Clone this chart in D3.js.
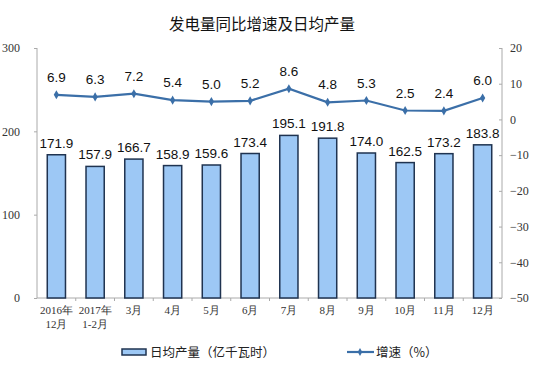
<!DOCTYPE html>
<html><head><meta charset="utf-8">
<script src="https://cdn.jsdelivr.net/npm/d3@7"></script>
<style>body{margin:0;background:#fff}</style>
</head><body>
<svg id="c" width="536" height="368"></svg>
<script>
const categories = ["2016年|12月","2017年|1-2月","3月","4月","5月","6月","7月","8月","9月","10月","11月","12月"];
const output = [171.9,157.9,166.7,158.9,159.6,173.4,195.1,191.8,174.0,162.5,173.2,183.8];
const growth = [6.9,6.3,7.2,5.4,5.0,5.2,8.6,4.8,5.3,2.5,2.4,6.0];
const leftTicks = [0,100,200,300];
const rightTicks = [20,10,0,-10,-20,-30,-40,-50];

const svg = d3.select("#c");
const L=37,R=502,T=48,B=298;
const x = d3.scaleBand().domain(categories).range([L,R]).paddingInner(0.53).paddingOuter(0.265);
const xo = d3.scaleBand().domain(categories).range([L,R]);
const yL = d3.scaleLinear().domain([0,300]).range([B,T]);
const yR = d3.scaleLinear().domain([-50,20]).range([B,T]);
const serif = "'Liberation Serif','DejaVu Serif',serif";
const cjk = "'Noto Sans CJK SC',sans-serif";

svg.append("text").attr("x",262).attr("y",30).attr("text-anchor","middle")
  .attr("font-family",cjk).attr("font-size",15.5).attr("fill","#111").text("发电量同比增速及日均产量");

// axes
const gl = svg.append("g").attr("transform",`translate(${L},0)`)
  .call(d3.axisLeft(yL).tickValues(leftTicks).tickSize(3).tickPadding(14));
gl.select(".domain").attr("stroke","#aaa").attr("d",`M0,${T}V${B}`);
gl.selectAll(".tick line").attr("stroke","#aaa");
gl.selectAll("text").attr("font-family",serif).attr("font-size",12).attr("fill","#333");

const gr = svg.append("g").attr("transform",`translate(${R},0)`)
  .call(d3.axisRight(yR).tickValues(rightTicks).tickSize(-3).tickPadding(8));
gr.select(".domain").attr("stroke","#aaa").attr("d",`M0,${T}V${B}`);
gr.selectAll(".tick line").attr("stroke","#aaa");
gr.selectAll("text").attr("font-family",serif).attr("font-size",12).attr("fill","#333");

// bottom axis
svg.append("line").attr("x1",L).attr("x2",R).attr("y1",B).attr("y2",B).attr("stroke","#aaa");
svg.selectAll(".xt").data(categories.slice(1)).enter().append("line")
  .attr("x1",d=>xo(d)).attr("x2",d=>xo(d)).attr("y1",B).attr("y2",B+3).attr("stroke","#aaa");
const xl = svg.selectAll(".xl").data(categories).enter().append("text")
  .attr("text-anchor","middle").attr("font-family",serif).attr("font-size",11).attr("fill","#333");
xl.each(function(d){
  const parts=d.split("|"); const t=d3.select(this);
  parts.forEach((p,i)=>t.append("tspan").attr("x",xo(d)+xo.bandwidth()/2).attr("y",314+i*14).text(p));
});

// bars
svg.selectAll(".bar").data(output).enter().append("rect")
  .attr("x",(d,i)=>x(categories[i])).attr("width",x.bandwidth())
  .attr("y",d=>yL(d)).attr("height",d=>B-yL(d))
  .attr("fill","#9DC8F5").attr("stroke","#1F3350").attr("stroke-width",1.5);
svg.selectAll(".bl").data(output).enter().append("text")
  .attr("x",(d,i)=>xo(categories[i])+xo.bandwidth()/2).attr("y",d=>yL(d)-7)
  .attr("text-anchor","middle").attr("font-family","'Liberation Sans',Arial,sans-serif")
  .attr("font-size",13.5).attr("fill","#111").text(d=>d.toFixed(1));

// line
const cx = i=>xo(categories[i])+xo.bandwidth()/2;
svg.append("path").datum(growth)
  .attr("d",d3.line().x((d,i)=>cx(i)).y(d=>yR(d)))
  .attr("fill","none").attr("stroke","#3B6FA8").attr("stroke-width",2.2);
svg.selectAll(".pt").data(growth).enter().append("path")
  .attr("d",d3.symbol(d3.symbolDiamond,24))
  .attr("transform",(d,i)=>`translate(${cx(i)},${yR(d)})`).attr("fill","#3B6FA8");
svg.selectAll(".ll").data(growth).enter().append("text")
  .attr("x",(d,i)=>cx(i)).attr("y",d=>yR(d)-13)
  .attr("text-anchor","middle").attr("font-family","'Liberation Sans',Arial,sans-serif")
  .attr("font-size",13.5).attr("fill","#111").text(d=>d.toFixed(1));

// legend
svg.append("rect").attr("x",122).attr("y",349).attr("width",24).attr("height",6)
  .attr("fill","#9DC8F5").attr("stroke","#1F3350").attr("stroke-width",1.5);
svg.append("text").attr("x",150).attr("y",357).attr("font-family",cjk).attr("font-size",12.5)
  .attr("fill","#222").text("日均产量（亿千瓦时）");
svg.append("line").attr("x1",347).attr("x2",374).attr("y1",352).attr("y2",352)
  .attr("stroke","#3B6FA8").attr("stroke-width",2.2);
svg.append("path").attr("d",d3.symbol(d3.symbolDiamond,18)).attr("transform","translate(360,352)").attr("fill","#3B6FA8");
svg.append("text").attr("x",376).attr("y",357).attr("font-family",cjk).attr("font-size",12.5)
  .attr("fill","#222").text("增速（%）");
</script>
</body></html>
